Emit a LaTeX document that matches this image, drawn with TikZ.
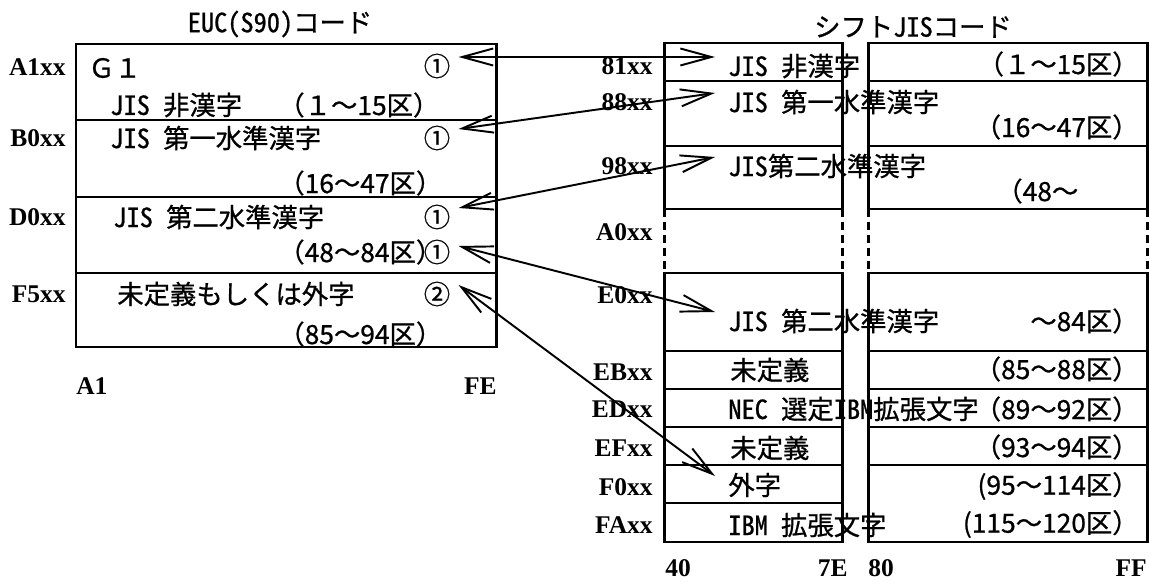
\documentclass[tikz,border=0pt]{standalone}
\usepackage{fontspec}
\setmainfont{Noto Sans CJK JP}[FakeBold=0.8]
\newfontfamily\hwfont{Noto Sans CJK JP}[RawFeature=+hwid, FakeBold=0.8]
\newfontfamily\hexfont{Liberation Serif}
\newcommand{\hwtext}[1]{{\hwfont #1}}
\usetikzlibrary{arrows.meta}

\begin{document}
\begin{tikzpicture}[x=0.02cm, y=-0.02cm,
    every node/.style={inner sep=0pt, font=\fontsize{15}{18}\selectfont},
    hexlabel/.style={font=\hexfont\bfseries\fontsize{14.5}{16}\selectfont},
    txt/.style={anchor=west},
    rtxt/.style={anchor=east},
    boxline/.style={line width=1.7pt},
    dashline/.style={line width=1.7pt, dash pattern=on 0.16cm off 0.1cm},
    maparrow/.style={<->, line width=1.1pt},
    >={Straight Barb[length=0.62cm,width=0.34cm]}]
				\useasboundingbox (0,0) rectangle (1149,584);
				\draw[boxline] (76,44) rectangle (496,347);
				\draw[boxline] (76,120) -- (496,120);
				\draw[boxline] (76,197) -- (496,197);
				\draw[boxline] (76,273) -- (496,273);
				\draw[boxline] (664,43) rectangle (842,209);
				\draw[boxline] (664,81) -- (842,81);
				\draw[boxline] (664,146) -- (842,146);
				\draw[boxline] (664,273) rectangle (842,542);
				\draw[boxline] (664,351) -- (842,351);
				\draw[boxline] (664,389) -- (842,389);
				\draw[boxline] (664,427) -- (842,427);
				\draw[boxline] (664,465) -- (842,465);
				\draw[boxline] (664,503) -- (842,503);
				\draw[boxline] (868,43) rectangle (1147,209);
				\draw[boxline] (868,81) -- (1147,81);
				\draw[boxline] (868,146) -- (1147,146);
				\draw[boxline] (868,273) rectangle (1147,542);
				\draw[boxline] (868,351) -- (1147,351);
				\draw[boxline] (868,389) -- (1147,389);
				\draw[boxline] (868,427) -- (1147,427);
				\draw[boxline] (868,465) -- (1147,465);
				\draw[dashline] (664,209) -- (664,273);
				\draw[dashline] (842,209) -- (842,273);
				\draw[dashline] (868,209) -- (868,273);
				\draw[dashline] (1147,209) -- (1147,273);

				\node (euc) at (280,24) {\hwtext{EUC(S90)}コード};
				\node (sjis) at (913,27) {シフト\hwtext{JIS}コード};

				\node[hexlabel, rtxt] (a1xx) at (66,67) {A1xx};
				\node[hexlabel, rtxt] (b0xx) at (66,138) {B0xx};
				\node[hexlabel, rtxt] (d0xx) at (66,217) {D0xx};
				\node[hexlabel, rtxt] (f5xx) at (66,294) {F5xx};
				\node[hexlabel, txt] (a1) at (76,386) {A1};
				\node[hexlabel, rtxt] (fe) at (497,386) {FE};

				\node[txt] (g1) at (88,68) {Ｇ１};
				\node (c1) at (437,66) {①};
				\node[txt] (ta1) at (110,105) {\hwtext{JIS }非漢字};
				\node[txt] (pa1) at (278,105) {（１～15区）};
				\node[txt] (tb0) at (110,138) {\hwtext{JIS }第一水準漢字};
				\node (c2) at (437,138) {①};
				\node[txt] (pb0) at (278,183) {（16～47区）};
				\node[txt] (td0) at (113,217) {\hwtext{JIS }第二水準漢字};
				\node (c3) at (437,217) {①};
				\node[txt] (pd0) at (278,252) {（48～84区）};
				\node (c4) at (437,252) {①};
				\node[txt] (tf5) at (117,294) {未定義もしくは外字};
				\node (c5) at (437,294) {②};
				\node[txt] (pf5) at (278,334) {（85～94区）};

				\node[hexlabel, rtxt] (x81) at (653,66) {81xx};
				\node[hexlabel, rtxt] (x88) at (653,102) {88xx};
				\node[hexlabel, rtxt] (x98) at (653,166) {98xx};
				\node[hexlabel, rtxt] (xa0) at (653,232) {A0xx};
				\node[hexlabel, rtxt] (xe0) at (653,295) {E0xx};
				\node[hexlabel, rtxt] (xeb) at (653,372) {EBxx};
				\node[hexlabel, rtxt] (xed) at (653,409) {EDxx};
				\node[hexlabel, rtxt] (xef) at (653,448) {EFxx};
				\node[hexlabel, rtxt] (xf0) at (653,487) {F0xx};
				\node[hexlabel, rtxt] (xfa) at (653,525) {FAxx};
				\node[hexlabel, txt] (b40) at (665,568) {40};
				\node[hexlabel, rtxt] (b7e) at (848,568) {7E};
				\node[hexlabel, txt] (b80) at (868,568) {80};
				\node[hexlabel, rtxt] (bff) at (1147,568) {FF};

				\node[txt] (t81) at (728,66) {\hwtext{JIS }非漢字};
				\node[txt] (t88) at (728,102) {\hwtext{JIS }第一水準漢字};
				\node[txt] (t98) at (728,166) {\hwtext{JIS}第二水準漢字};
				\node[txt] (te0) at (728,321) {\hwtext{JIS }第二水準漢字};
				\node[txt] (teb) at (730,370) {未定義};
				\node[txt] (ted) at (728,409) {\hwtext{NEC }選定\hwtext{IBM}拡張文字};
				\node[txt] (tef) at (730,448) {未定義};
				\node[txt] (tf0) at (728,485) {外字};
				\node[txt] (tfa) at (728,525) {\hwtext{IBM }拡張文字};

				\node[rtxt] (r81) at (1139,64) {（１～15区）};
				\node[rtxt] (r88) at (1139,127) {（16～47区）};
				\node[txt] (r98) at (996,191) {（48～};
				\node[rtxt] (re0) at (1139,321) {～84区）};
				\node[rtxt] (reb) at (1139,369) {（85～88区）};
				\node[rtxt] (red) at (1139,409) {（89～92区）};
				\node[rtxt] (ref) at (1139,447) {（93～94区）};
				\node[rtxt] (rf0) at (1139,486) {(95～114区）};
				\node[rtxt] (rfa) at (1139,524) {(115～120区）};

				\draw[maparrow] ([shift={(8,-9)}]c1.east) -- ([shift={(-13,-9)}]t81.west);
				\draw[maparrow] ([shift={(8,-9)}]c2.east) -- ([shift={(-13,-9)}]t88.west);
				\draw[maparrow] ([shift={(8,-9)}]c3.east) -- ([shift={(-13,-9)}]t98.west);
				\draw[maparrow] ([shift={(8,-6)}]c4.east) -- ([shift={(-13,-9)}]te0.west);
				\draw[maparrow] ([shift={(8,-9)}]c5.east) -- ([shift={(-13,-9)}]tf0.west);
\end{tikzpicture}
\end{document}
